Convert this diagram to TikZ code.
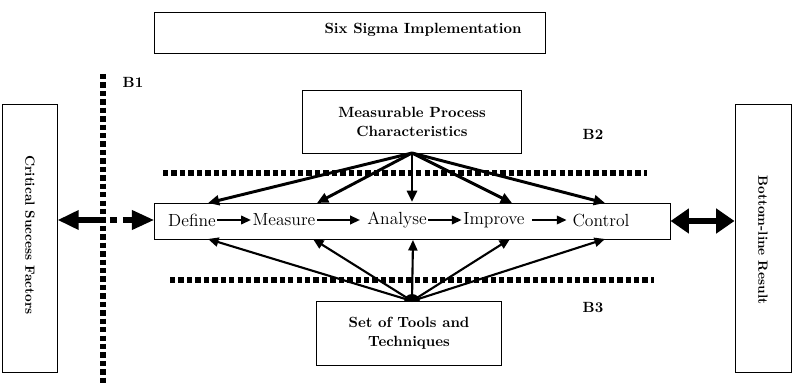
\documentclass[tikz,border=0pt]{standalone}
\usetikzlibrary{arrows.meta}
\begin{document}
\begin{tikzpicture}[x=0.025cm,y=-0.025cm,
  box/.style={draw,line width=0.7pt,inner sep=0pt},
  bold/.style={font=\bfseries\fontsize{10.5}{12.5}\selectfont,align=center},
  rot/.style={font=\bfseries\fontsize{9.5}{11}\selectfont,rotate=-90},
  word/.style={font=\fontsize{12.5}{14}\selectfont,inner sep=1pt},
  flow/.style={line width=1.5pt,-{Triangle[length=7pt,width=6pt]}},
  topar/.style={line width=2.1pt,-{Triangle[length=8pt,width=7pt]}},
  botar/.style={line width=1.5pt,-{Triangle[length=7.5pt,width=6.5pt]}},
  barrier/.style={line width=4pt,dash pattern=on 3.8pt off 2.2pt},
  fat/.style={line width=4.2pt},
]
\useasboundingbox (0,0) rectangle (800,385);
% boxes
\node[box,minimum width=9.75cm,minimum height=1.025cm] (ssi) at (350,33) {};
\node[bold] (ssit) at (423,30) {Six Sigma Implementation};
\node[box,minimum width=1.375cm,minimum height=6.675cm] (lbox) at (29.5,238.5) {};
\node[rot] (lboxt) at (30,235) {Critical Success Factors};
\node[box,minimum width=1.4cm,minimum height=6.675cm] (rbox) at (763,238.5) {};
\node[rot] (rboxt) at (763,240) {Bottom-line Result};
\node[box,minimum width=5.45cm,minimum height=1.55cm,bold] (mpc) at (412,122) {Measurable Process\\[1pt]Characteristics};
\node[box,minimum width=12.875cm,minimum height=0.9cm] (main) at (412.5,221) {};
\node[box,minimum width=4.6cm,minimum height=1.575cm,bold] (stt) at (409,333.5) {Set of Tools and\\[1pt]Techniques};
% barrier lines
\draw[barrier] (103,74) -- (103,385);
\draw[barrier] (163,173) -- (647,173);
\draw[barrier] (170,280) -- (654,280);
\node[bold] (b1) at (133,82) {B1};
\node[bold] (b2) at (593,134) {B2};
\node[bold] (b3) at (593,308) {B3};
% phases
\node[word] (def) at (192,220) {Define};
\node[word] (mea) at (284,220) {Measure};
\node[word] (ana) at (397,220) {Analyse};
\node[word] (imp) at (494,220) {Improve};
\node[word] (con) at (601,220) {Control};
\draw[flow] (def) -- (mea);
\draw[flow] (mea) -- ([xshift=-4pt]ana.west);
\draw[flow] (ana) -- (imp);
\draw[flow] ([xshift=4pt]imp.east) -- ([xshift=-3pt]con.west);
% targets on main box
\coordinate (t1) at (208,203);
\coordinate (t2) at (317,203);
\coordinate (t3) at (412,202);
\coordinate (t4) at (512,203);
\coordinate (t5) at (605,203);
\coordinate (u1) at (208,239);
\coordinate (u2) at (313,239);
\coordinate (u3) at (413,240);
\coordinate (u4) at (510,239);
\coordinate (u5) at (605,239);
\coordinate (ms) at (412,153);
\coordinate (ts) at (412,301);
\foreach \t in {t1,t2,t3,t4,t5} \draw[topar] (ms) -- (\t);
\foreach \u in {u1,u2,u3,u4,u5} \draw[botar] (ts) -- (\u);
\fill (404,302) arc[start angle=180,end angle=360,radius=8] -- cycle;
% left double arrow
\coordinate (lm) at (100,220);
\draw[fat,-{Triangle[length=15pt,width=13pt]}] (lm) -- (lbox.east |- lm);
\draw[fat,dash pattern=on 0pt off 7pt on 5pt off 4.3pt on 20pt,-{Triangle[length=16pt,width=13pt]}] (lm) -- (main.west |- lm);
% right double arrow
\draw[fat,{Triangle[length=13pt,width=17pt]}-{Triangle[length=13pt,width=17pt]}] (main.east) -- (rbox.west |- main.east);
\end{tikzpicture}
\end{document}
